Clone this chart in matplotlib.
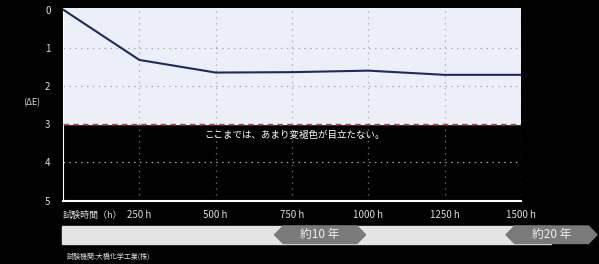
import matplotlib.pyplot as plt
from matplotlib.patches import Polygon, Rectangle

plt.rcParams['font.family'] = ['Noto Sans CJK JP', 'DejaVu Sans']

# data
hours = [0, 250, 500, 750, 1000, 1250, 1500]
delta_e = [0, 1.32, 1.65, 1.64, 1.60, 1.71, 1.71]
tick_hours = [250, 500, 750, 1000, 1250, 1500]
tick_labels = ['250 h', '500 h', '750 h', '1000 h', '1250 h', '1500 h']
y_ticks = [0, 1, 2, 3, 4, 5]
limit_de = 3
periods = ['約10 年', '約20 年']
period_hours = [842, 1600]

W, H = 599, 264
fig = plt.figure(figsize=(W / 100, H / 100), dpi=100, facecolor='black')

ax = fig.add_axes([63 / W, 1 - 200.5 / H, 458 / W, 192.5 / H])
ax.set_facecolor('black')
ax.set_xlim(0, 1500)
ax.set_ylim(5, -0.04)

ax.axhspan(-0.04, limit_de, color='#eceff8', zorder=0)
ax.axhline(limit_de, color='#b8405c', lw=1, ls=(0, (4, 3)), zorder=3)

for y in [1, 2, 4]:
    ax.axhline(y, color='#a8a8a8', lw=0.9, ls=(0, (1.2, 3.5)), zorder=1)
for x in tick_hours:
    ax.axvline(x, ymin=0.4, color='#b0b0b0', lw=0.9, ls=(0, (1.2, 3.5)), zorder=1)
    ax.axvline(x, ymax=0.4, color='#666666', lw=0.9, ls=(0, (1.2, 3.5)), zorder=1)

ax.plot(hours, delta_e, color='#1f2a5c', lw=1.5, zorder=4)

ax.text(462, 3.3, 'ここまでは、あまり変褪色が目立たない。', color='white',
        fontsize=6.8, va='center', ha='left')

for s in ['top', 'right']:
    ax.spines[s].set_visible(False)
ax.spines['left'].set_color('white')
ax.spines['bottom'].set_color('white')
ax.spines['bottom'].set_linewidth(1.5)

ax.set_yticks(y_ticks)
ax.set_yticklabels([str(v) for v in y_ticks])
ax.set_xticks(tick_hours)
ax.set_xticklabels(tick_labels)
ax.tick_params(length=0, colors='#dddddd', labelsize=7)
ax.tick_params(axis='y', pad=9)
ax.tick_params(axis='x', pad=7)

fig.text(63 / W, 1 - 215 / H, '試験時間（h）', color='#dddddd', fontsize=6.5,
         va='center', ha='left')
fig.text(32 / W, 1 - 103 / H, '(ΔE)', color='#dddddd', fontsize=6.5,
         va='center', ha='center')
fig.text(67 / W, 1 - 257 / H, '試験機関:大橋化学工業(株)', color='#dddddd',
         fontsize=5, va='center', ha='left')

# period bar
bx = fig.add_axes([63 / W, 1 - 243.5 / H, 458 / W, 17.5 / H])
bx.set_xlim(0, 1500)
bx.set_ylim(0, 1)
bx.axis('off')
bx.add_patch(Rectangle((-3, 0), period_hours[-1], 1, color='#e4e4e4',
                       clip_on=False))
half = 149
tip = 28
for lab, c in zip(periods, period_hours):
    pts = [(c - half, 0.5), (c - half + tip, 1), (c + half - tip, 1),
           (c + half, 0.5), (c + half - tip, 0), (c - half + tip, 0)]
    bx.add_patch(Polygon(pts, closed=True, color='#7a7a7a', clip_on=False))
    bx.text(c, 0.5, lab, color='#eeeeee', fontsize=8.5, ha='center',
            va='center', clip_on=False)

plt.savefig('out.png', dpi=100, facecolor='black')
